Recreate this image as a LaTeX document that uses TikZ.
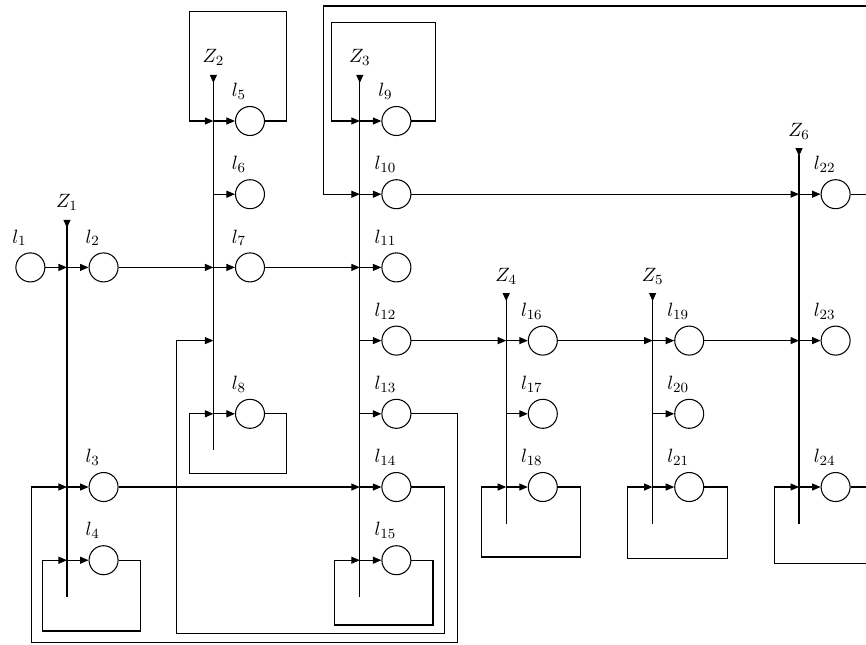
\documentclass[tikz,border=0pt]{standalone}
\usetikzlibrary{arrows.meta}

\begin{document}
\begin{tikzpicture}[
		x=1.464cm, y=1.464cm,
		semithick,
		every label/.style={font=\fontsize{11}{13}\selectfont},
		lamp/.style={circle, draw, minimum size=0.58cm, inner sep=0pt},
		lab/.style={xshift=-0.22cm},
		zlab/.style={above, yshift=1.5pt, font=\fontsize{11}{13}\selectfont},
		arr/.style={-{Triangle[length=1.7mm,width=1.4mm]}},
		bus/.style={{Triangle[reversed,length=1.6mm,width=1.4mm]}-}
		]
		
		\clip (-0.915,1.653) rectangle (10.915,-7.145);
		
		\foreach \i/\x/\t/\b in {1/0/-1.35/-6.5, 2/2/0.63/-4.5, 3/4/0.63/-6.5,
			4/6/-2.35/-5.5, 5/8/-2.35/-5.5, 6/10/-0.37/-5.5} {
			\coordinate (z\i) at (\x,\t);
			\coordinate (z\i e) at (\x,\b);
			\draw[bus] (z\i) -- (z\i e);
			\node[zlab] (Z\i) at (z\i) {$Z_{\i}$};
		}
		
		\foreach \n/\x/\y in {1/-0.5/-2, 2/0.5/-2, 3/0.5/-5, 4/0.5/-6,
			5/2.5/0, 6/2.5/-1, 7/2.5/-2, 8/2.5/-4,
			9/4.5/0, 10/4.5/-1, 11/4.5/-2, 12/4.5/-3, 13/4.5/-4, 14/4.5/-5, 15/4.5/-6,
			16/6.5/-3, 17/6.5/-4, 18/6.5/-5,
			19/8.5/-3, 20/8.5/-4, 21/8.5/-5,
			22/10.5/-1, 23/10.5/-3, 24/10.5/-5} {
			\node[lamp, label={[lab]above:$l_{\n}$}] (l\n) at (\x,\y) {};
			\coordinate (b\n) at ({\x-0.5},\y);
		}
		\coordinate (x2) at (2,-3);
		
		\foreach \n in {2,...,24} {
			\draw[arr] (b\n) -- (l\n);
		}
		
		\draw[arr] (l1) -- (b2);
		\draw[arr] (l2) -- (b7);
		\draw[arr] (l7) -- (b11);
		\draw[arr] (l10) -- (b22);
		\draw[arr] (l12) -- (b16);
		\draw[arr] (l16) -- (b19);
		\draw[arr] (l19) -- (b23);
		\draw[arr] (l3) -- (b14);
		
		\draw[arr] (l5.east) -| (3,1.5) -| (1.67,0) -- (b5);
		\draw[arr] (l9.east) -| (5.03,1.34) -| (3.61,0) -- (b9);
		\draw[arr] (l22.east) -- (11.2,-1) |- (3.5,1.571) |- (b10);
		\draw[arr] (l8.east) -| (3,-4.82) -| (1.67,-4) -- (b8);
		\draw[arr] (l4.east) -| (1,-6.967) -| (-0.34,-6) -- (b4);
		\draw[arr] (l13.east) -| (5.33,-7.13) -| (-0.49,-5) -- (b3);
		\draw[arr] (l14.east) -| (5.16,-6.995) -| (1.5,-3) -- (x2);
		\draw[arr] (l15.east) -| (5,-6.885) -| (3.66,-6) -- (b15);
		\draw[arr] (l18.east) -| (7.02,-5.956) -| (5.66,-5) -- (b18);
		\draw[arr] (l21.east) -| (9.02,-5.98) -| (7.66,-5) -- (b21);
		\draw[arr] (l24.east) -- (11.2,-5) |- (9.66,-6.05) |- (b24);
	\end{tikzpicture}
\end{document}
